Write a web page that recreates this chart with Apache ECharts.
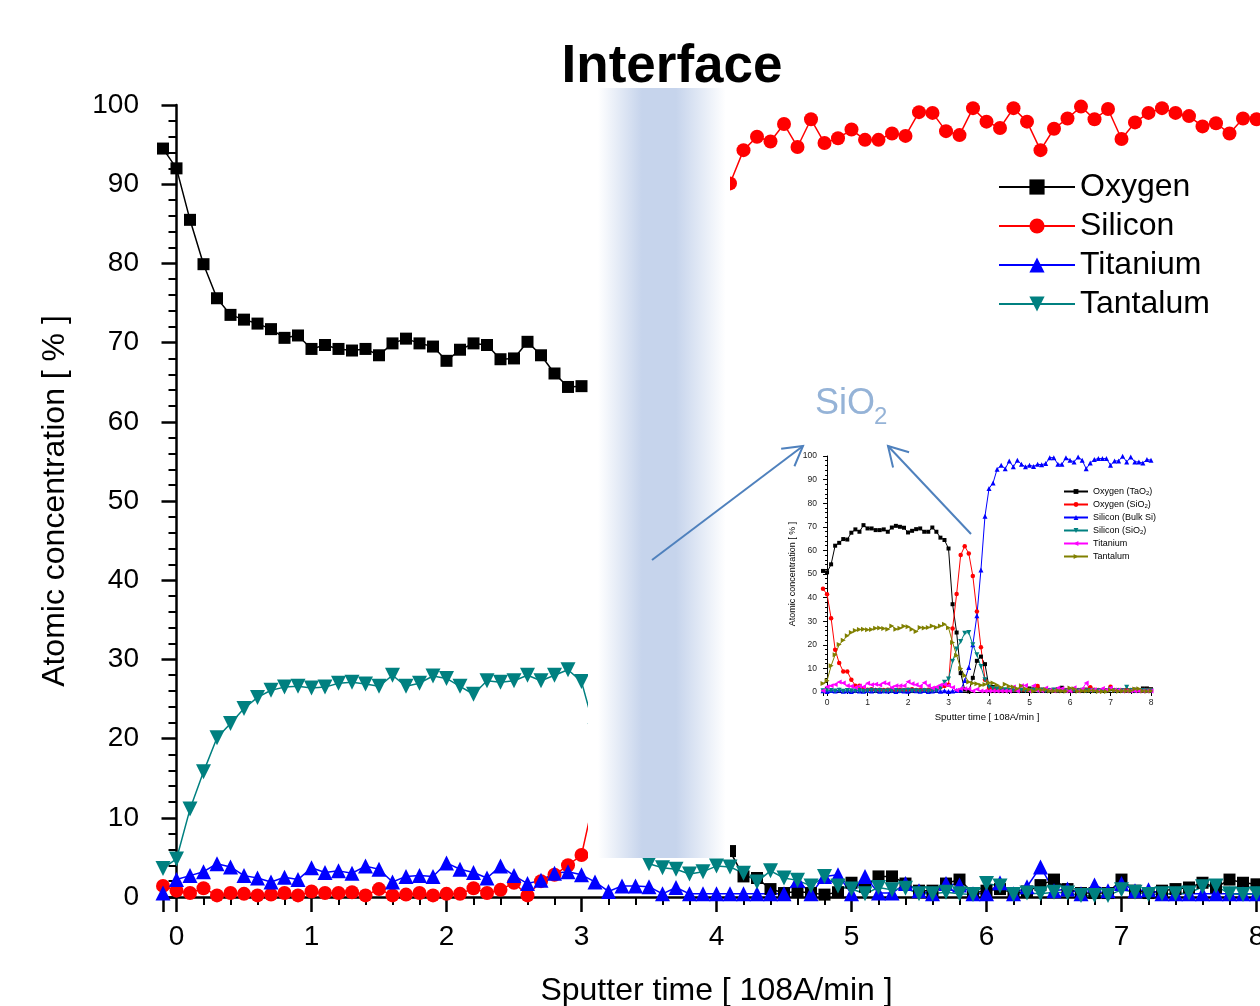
<!DOCTYPE html>
<html lang="en">
<head>
    <meta charset="UTF-8">
    <title>Interface</title>
    <script src="https://cdn.jsdelivr.net/npm/echarts@6/dist/echarts.min.js"></script>
    <style>
        html, body { margin: 0; padding: 0; background: #fff; }
    </style>
</head>
<body>
 <div id="myChart" style="width: 1260px;height: 1006px;"></div>
 <script>
     // sputter time, step 0.1 (both charts)
     var times = [-0.1, 0.0, 0.1, 0.2, 0.3, 0.4, 0.5, 0.6, 0.7, 0.8, 0.9,
         1.0, 1.1, 1.2, 1.3, 1.4, 1.5, 1.6, 1.7, 1.8, 1.9,
         2.0, 2.1, 2.2, 2.3, 2.4, 2.5, 2.6, 2.7, 2.8, 2.9,
         3.0, 3.1, 3.2, 3.3, 3.4, 3.5, 3.6, 3.7, 3.8, 3.9,
         4.0, 4.1, 4.2, 4.3, 4.4, 4.5, 4.6, 4.7, 4.8, 4.9,
         5.0, 5.1, 5.2, 5.3, 5.4, 5.5, 5.6, 5.7, 5.8, 5.9,
         6.0, 6.1, 6.2, 6.3, 6.4, 6.5, 6.6, 6.7, 6.8, 6.9,
         7.0, 7.1, 7.2, 7.3, 7.4, 7.5, 7.6, 7.7, 7.8, 7.9, 8.0];

     // main chart (null = hidden behind the interface band)
     var oxygen = [94.5, 92.0, 85.5, 79.9, 75.6, 73.5, 72.9, 72.4, 71.7, 70.6, 70.9,
         69.2, 69.7, 69.2, 69.0, 69.2, 68.4, 69.9, 70.5, 69.9, 69.5,
         67.7, 69.1, 69.9, 69.7, 67.9, 68.0, 70.1, 68.4, 66.1, 64.4,
         64.5, null, null, null, null, null, null, null, null, null,
         null, 5.8, 2.6, 2.4, 1.0, 0.5, 0.7, 0.5, 0.3, 0.6,
         1.8, 1.3, 2.6, 2.6, 1.7, 0.8, 0.8, 1.7, 2.2, 0.5,
         0.8, 1.0, 0.5, 0.7, 1.5, 2.2, 1.0, 0.5, 0.5, 0.5,
         2.2, 0.8, 0.5, 0.8, 1.0, 1.2, 1.8, 1.2, 2.2, 1.8, 1.6];
     var silicon = [1.4, 0.8, 0.5, 1.1, 0.2, 0.5, 0.4, 0.2, 0.3, 0.5, 0.2,
         0.7, 0.5, 0.5, 0.6, 0.2, 1.0, 0.2, 0.3, 0.5, 0.2,
         0.4, 0.4, 1.1, 0.5, 0.9, 1.8, 0.2, 2.0, 2.8, 4.0,
         5.3, 13.0, null, null, null, null, null, null, null, null,
         null, 90.1, 94.3, 96.0, 95.4, 97.6, 94.7, 98.2, 95.2, 95.8,
         96.9, 95.6, 95.6, 96.4, 96.1, 99.1, 99.0, 96.7, 96.2, 99.6,
         97.9, 97.1, 99.6, 97.9, 94.3, 97.0, 98.3, 99.8, 98.2, 99.5,
         95.7, 97.8, 99.0, 99.6, 99.0, 98.6, 97.3, 97.7, 96.4, 98.3, 98.2];
     var titanium = [0.5, 2.2, 2.7, 3.2, 4.2, 3.8, 2.7, 2.4, 1.9, 2.5, 2.2,
         3.7, 3.1, 3.3, 3.0, 3.9, 3.5, 1.9, 2.6, 2.7, 2.6,
         4.3, 3.5, 3.1, 2.4, 3.9, 2.7, 1.7, 2.1, 3.0, 3.2,
         2.8, 1.9, 0.7, 1.4, 1.4, 1.3, 0.4, 1.2, 0.4, 0.4,
         0.4, 0.4, 0.4, 0.4, 0.4, 0.4, 2.1, 0.4, 2.6, 2.8,
         0.4, 2.6, 0.5, 0.5, 1.7, 0.8, 0.4, 1.7, 1.5, 0.4,
         0.4, 1.8, 0.4, 1.3, 3.8, 0.8, 1.0, 0.4, 1.5, 0.8,
         1.7, 0.8, 0.9, 0.4, 0.4, 0.4, 0.4, 0.4, 0.4, 0.4, 0.4];
     var tantalum = [3.6, 4.8, 11.1, 15.8, 20.1, 21.9, 23.8, 25.2, 26.1, 26.5, 26.6,
         26.4, 26.5, 27.0, 27.1, 26.9, 26.6, 28.0, 26.6, 27.0, 27.9,
         27.6, 26.6, 25.6, 27.3, 27.1, 27.3, 28.0, 27.3, 28.0, 28.7,
         27.2, 21.0, 15.5, 10.0, 7.0, 4.2, 3.7, 3.5, 2.9, 3.2,
         3.9, 3.8, 3.0, 1.9, 3.3, 2.4, 2.1, 1.4, 2.6, 1.4,
         1.0, 0.4, 1.2, 0.9, 1.1, 0.4, 0.4, 0.6, 0.4, 0.3,
         1.7, 1.4, 0.3, 0.5, 0.4, 0.6, 0.5, 0.2, 0.2, 0.2,
         0.9, 0.6, 0.3, 0.4, 0.4, 0.5, 1.3, 1.4, 0.4, 0.3, 0.4];

     // inset chart
     var oxyTaO2 = [51.3, 50.7, 54.1, 62.0, 63.2, 64.8, 64.6, 67.5, 68.9, 67.9, 70.7,
         69.3, 69.3, 68.6, 68.6, 68.9, 67.9, 69.7, 70.4, 70.0, 69.6,
         67.6, 68.3, 69.0, 69.3, 67.9, 67.9, 69.7, 67.9, 65.4, 64.4,
         60.8, 37.2, 25.2, 8.0, 1.0, 0.3, 6.0, 13.2, 15.0, 11.8,
         2.1, 2.1, 1.5, 1.0, 0.8, 0.8, 1.0, 0.8, 0.5, 0.7,
         1.5, 1.0, 1.5, 1.0, 0.8, 0.5, 0.7, 1.2, 1.8, 0.5,
         0.8, 0.6, 0.5, 0.7, 1.0, 1.5, 0.8, 0.5, 0.5, 0.5,
         1.2, 0.6, 0.5, 0.6, 0.8, 0.8, 1.0, 0.8, 1.5, 1.5, 1.2];
     var oxySiO2 = [43.7, 41.4, 31.3, 17.9, 12.3, 8.7, 8.7, 5.2, 2.7, 2.7, 1.5,
         1.0, 1.2, 0.8, 1.0, 0.8, 1.0, 0.8, 0.8, 1.0, 0.8,
         1.0, 1.2, 0.8, 1.0, 0.8, 1.0, 1.2, 1.5, 2.0, 2.5,
         3.1, 26.9, 41.5, 58.0, 61.8, 58.7, 49.2, 34.1, 19.0, 5.2,
         1.7, 1.5, 1.0, 1.2, 0.8, 1.0, 1.2, 0.8, 1.0, 0.8,
         1.0, 1.2, 2.5, 0.8, 1.0, 0.8, 0.8, 0.7, 0.8, 0.8,
         0.7, 0.8, 0.8, 0.8, 0.8, 2.0, 1.0, 0.8, 0.8, 0.7,
         2.2, 0.8, 0.8, 0.7, 0.8, 0.8, 0.8, 0.7, 0.8, 0.8, 0.8];
     var siBulk = [0.5, 0.2, 0.6, 0.4, 0.8, 0.3, 0.5, 0.2, 0.7, 0.4, 0.3,
         0.6, 0.4, 0.9, 0.3, 0.5, 0.4, 0.7, 0.2, 0.6, 0.4,
         0.3, 0.8, 0.5, 0.3, 0.6, 0.2, 0.4, 0.7, 0.3, 0.5,
         0.2, 0.4, 0.6, 0.8, 4.9, 10.4, 20.0, 32.3, 51.7, 74.5,
         86.2, 88.6, 94.4, 96.1, 94.6, 97.9, 95.4, 98.2, 96.5, 95.4,
         96.1, 95.6, 96.5, 96.3, 96.8, 99.3, 99.3, 96.5, 96.5, 99.3,
         98.2, 97.5, 99.6, 98.2, 94.6, 97.0, 98.5, 98.9, 98.9, 98.9,
         96.1, 97.9, 97.9, 99.9, 97.5, 99.6, 97.5, 97.5, 97.0, 98.5, 98.2];
     var siSiO2 = [0.5, 0.8, 0.6, 0.4, 0.7, 0.3, 0.6, 0.5, 0.4, 0.6, 0.3,
         0.5, 0.7, 0.4, 0.6, 0.3, 0.5, 0.4, 0.6, 0.3, 0.5,
         0.7, 0.4, 0.5, 0.3, 0.6, 0.4, 0.5, 0.6, 1.5, 4.1,
         5.5, 13.0, 18.2, 21.4, 24.9, 25.2, 20.0, 15.8, 10.8, 5.2,
         2.1, 1.5, 1.2, 0.8, 1.0, 0.6, 0.8, 0.5, 0.7, 0.5,
         0.6, 0.8, 0.5, 0.7, 0.5, 0.6, 0.8, 0.5, 0.6, 0.4,
         0.5, 0.6, 0.5, 0.7, 0.4, 0.6, 0.5, 0.5, 0.6, 0.4,
         1.2, 0.5, 0.6, 0.5, 2.0, 0.6, 0.4, 0.5, 0.6, 0.5, 0.5];

     var mainNames = ['Oxygen', 'Silicon', 'Titanium', 'Tantalum'];
     // trailing space keeps the inset legend apart from the main one
     var insetNames = ['Oxygen (TaO2)', 'Oxygen (SiO2)', 'Silicon (Bulk Si)', 'Silicon (SiO2)', 'Titanium ', 'Tantalum '];

     var DOWN = 'path://M0,0L10,0L5,10Z';
     var LEFT = 'path://M10,0L10,10L0,5Z';
     var RIGHT = 'path://M0,0L0,10L10,5Z';
     var FONT = 'Liberation Sans';

     function pair(vals) {
         return times.map(function (t, i) { return [t, vals[i]]; });
     }
     function intLabel(v) {
         return Math.abs(v - Math.round(v)) < 1e-6 ? String(Math.round(v)) : '';
     }
     function mainLine(name, vals, color, symbol, size) {
         return {
             name: name, type: 'line', xAxisIndex: 0, yAxisIndex: 0,
             data: pair(vals), symbol: symbol, symbolSize: size,
             itemStyle: {color: color}, lineStyle: {color: color, width: 1.5},
             connectNulls: false, z: 2
         };
     }
     function insetLine(name, vals, color, symbol, size) {
         return {
             name: name, type: 'line', xAxisIndex: 1, yAxisIndex: 1,
             data: pair(vals), symbol: symbol, symbolSize: size,
             itemStyle: {color: color}, lineStyle: {color: color, width: 1},
             z: 3
         };
     }

     // arrow = shaft + two arms at the tip
     function arrow(tail, tip) {
         var dx = tail[0] - tip[0], dy = tail[1] - tip[1];
         var len = Math.sqrt(dx * dx + dy * dy);
         var bx = dx / len, by = dy / len, c = Math.cos(Math.PI / 6), s = Math.sin(Math.PI / 6), L = 22;
         var a1 = [tip[0] + L * (bx * c - by * s), tip[1] + L * (bx * s + by * c)];
         var a2 = [tip[0] + L * (bx * c + by * s), tip[1] + L * (-bx * s + by * c)];
         var st = {stroke: '#4f81bd', lineWidth: 2, fill: null};
         return [
             {type: 'polyline', z: 20, shape: {points: [tail, tip]}, style: st},
             {type: 'polyline', z: 20, shape: {points: [a1, tip, a2]}, style: st}
         ];
     }

     var option = {
         animation: false,
         backgroundColor: '#fff',
         textStyle: {fontFamily: FONT},
         grid: [
             {left: 163, top: 105, width: 1107, height: 792, outerBoundsMode: 'none', containLabel: false},
             {left: 823, top: 456, width: 328, height: 236, outerBoundsMode: 'none', containLabel: false}
         ],
         legend: [
             {
                 data: mainNames, orient: 'vertical', left: 993, top: 166,
                 itemWidth: 76, itemHeight: 19, itemGap: 7, selectedMode: false,
                 textStyle: {fontSize: 32, color: '#000', fontFamily: FONT}
             },
             {
                 data: insetNames, orient: 'vertical', left: 1058, top: 482,
                 itemWidth: 24, itemHeight: 6, itemGap: 4, selectedMode: false,
                 formatter: function (n) { return n.replace('O2)', 'O{s|2})'); },
                 textStyle: {fontSize: 9, color: '#000', fontFamily: FONT,
                     rich: {s: {fontSize: 6, verticalAlign: 'bottom', fontFamily: FONT}}}
             }
         ],
         xAxis: [
             {
                 gridIndex: 0, type: 'value', min: -0.1, max: 8.1, splitNumber: 8,
                 name: 'Sputter time [ 108A/min ]', nameLocation: 'middle', nameGap: 78,
                 nameTextStyle: {fontSize: 32, color: '#000'},
                 axisLine: {lineStyle: {color: '#000', width: 2.5}},
                 axisTick: {length: 15, lineStyle: {color: '#000', width: 2.5}},
                 minorTick: {show: true, splitNumber: 5, length: 8, lineStyle: {color: '#000', width: 2}},
                 splitLine: {show: false},
                 axisLabel: {fontSize: 28, color: '#000', margin: 26, formatter: intLabel}
             },
             {
                 gridIndex: 1, type: 'value', min: -0.1, max: 8, splitNumber: 8,
                 name: 'Sputter time [ 108A/min ]', nameLocation: 'middle', nameGap: 20,
                 nameTextStyle: {fontSize: 9.5, color: '#000'},
                 axisLine: {lineStyle: {color: '#000', width: 1}},
                 axisTick: {length: 4, lineStyle: {color: '#000', width: 1}},
                 minorTick: {show: true, splitNumber: 2, length: 2, lineStyle: {color: '#000', width: 1}},
                 splitLine: {show: false},
                 axisLabel: {fontSize: 8.5, color: '#222', margin: 6, formatter: intLabel}
             }
         ],
         yAxis: [
             {
                 gridIndex: 0, type: 'value', min: 0, max: 100, interval: 10,
                 name: 'Atomic concentration [ % ]', nameLocation: 'middle', nameGap: 92,
                 nameTextStyle: {fontSize: 32, color: '#000'},
                 axisLine: {show: true, lineStyle: {color: '#000', width: 2.5}},
                 axisTick: {show: true, length: 15, lineStyle: {color: '#000', width: 2.5}},
                 minorTick: {show: true, splitNumber: 5, length: 8, lineStyle: {color: '#000', width: 2}},
                 splitLine: {show: false},
                 axisLabel: {fontSize: 28, color: '#000', margin: 24}
             },
             {
                 gridIndex: 1, type: 'value', min: 0, max: 100, interval: 10,
                 name: 'Atomic concentration [ % ]', nameLocation: 'middle', nameGap: 26,
                 nameTextStyle: {fontSize: 9, color: '#000'},
                 axisLine: {show: true, lineStyle: {color: '#000', width: 1}},
                 axisTick: {show: true, length: 4, lineStyle: {color: '#000', width: 1}},
                 minorTick: {show: true, splitNumber: 5, length: 2, lineStyle: {color: '#000', width: 1}},
                 splitLine: {show: false},
                 axisLabel: {fontSize: 8.5, color: '#222', margin: 6}
             }
         ],
         series: [
             mainLine('Oxygen', oxygen, '#000000', 'rect', 12),
             mainLine('Silicon', silicon, '#ff0000', 'circle', 14),
             mainLine('Titanium', titanium, '#0000ff', 'triangle', 15),
             mainLine('Tantalum', tantalum, '#008080', DOWN, 15),
             insetLine('Oxygen (TaO2)', oxyTaO2, '#000000', 'rect', 4),
             insetLine('Oxygen (SiO2)', oxySiO2, '#ff0000', 'circle', 4.5),
             insetLine('Silicon (Bulk Si)', siBulk, '#0000ff', 'triangle', 5),
             insetLine('Silicon (SiO2)', siSiO2, '#008080', DOWN, 5),
             insetLine('Titanium ', titanium, '#ff00ff', LEFT, 5),
             insetLine('Tantalum ', tantalum, '#808000', RIGHT, 5)
         ],
         graphic: [
             {
                 // white cover with the blue interface band
                 type: 'rect', z: 10,
                 shape: {x: 588, y: 88, width: 142, height: 770},
                 style: {
                     fill: new echarts.graphic.LinearGradient(0, 0, 1, 0, [
                         {offset: 0, color: '#ffffff'},
                         {offset: 0.07, color: '#ffffff'},
                         {offset: 0.38, color: '#c6d4ec'},
                         {offset: 0.62, color: '#c6d4ec'},
                         {offset: 0.97, color: '#ffffff'},
                         {offset: 1, color: '#ffffff'}
                     ])
                 }
             },
             {
                 type: 'text', z: 20,
                 style: {text: 'Interface', x: 672, y: 67, align: 'center', verticalAlign: 'middle',
                     font: 'bold 53px "Liberation Sans"', fill: '#000'}
             },
             {
                 type: 'text', z: 20,
                 style: {text: 'SiO', x: 815, y: 404, verticalAlign: 'middle',
                     font: '36px "Liberation Sans"', fill: '#95b3d7'}
             },
             {
                 type: 'text', z: 20,
                 style: {text: '2', x: 874, y: 417, verticalAlign: 'middle',
                     font: '24px "Liberation Sans"', fill: '#95b3d7'}
             }
         ].concat(arrow([652, 560], [803, 446]), arrow([971, 534], [888, 446]))
     };

     var myChart = echarts.init(document.getElementById('myChart'));
     myChart.setOption(option);
 </script>
</body>
</html>
